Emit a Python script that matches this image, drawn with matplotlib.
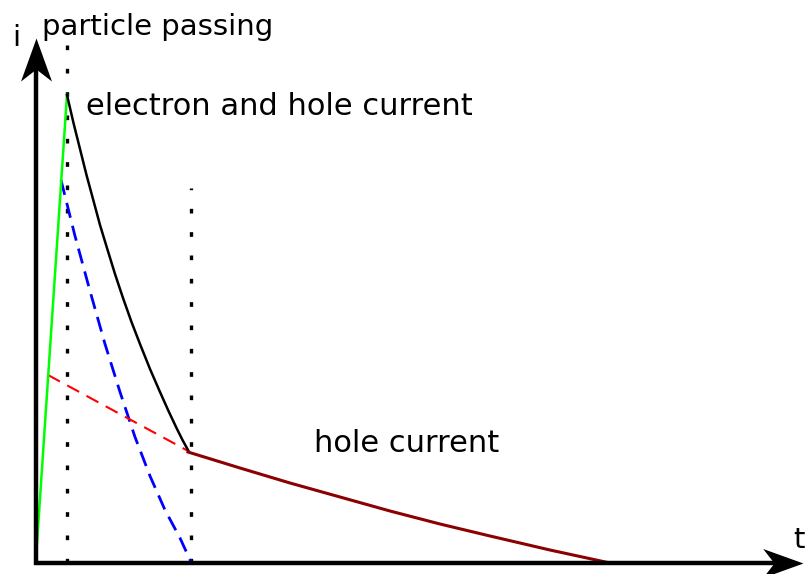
import matplotlib
matplotlib.use("Agg")
import matplotlib.pyplot as plt
from matplotlib.path import Path

# schematic signal of a particle passing through a detector (arbitrary units)
# t measured from the axis origin, i measured up from the t axis

# rise while the particle passes
rise_t = [0, 31]
rise_i = [5, 468]

# electron + hole current
total_t = [31, 37.5, 44, 50.5, 57, 64, 71, 79, 87, 95.5, 104, 114, 124, 132.5, 141, 146.5, 152]
total_i = [468, 440, 414, 388, 364, 338, 315, 289, 265, 241, 219, 194, 171, 152, 134, 123, 113]

# electron contribution (dashed blue)
elec_t = [25, 39, 54, 69, 84, 99, 114, 129, 144, 155]
elec_i = [383, 327, 272, 219, 171, 126, 87, 53, 25, 1]

# hole contribution, early part (dashed red)
hole_early_t = [12, 154]
hole_early_i = [188, 111]

# hole current after electrons are collected
hole_t = [152, 204, 254, 304, 354, 404, 454, 514, 574]
hole_i = [111, 95, 80, 66, 52, 39, 27, 13, 0]

# vertical markers
marker_t = [31, 155]
marker_top = [518, 375]

t_axis_end = 767
i_axis_end = 525

fig = plt.figure(figsize=(8.06, 5.74), dpi=100)
ax = fig.add_axes([0, 0, 1, 1])
ax.set_xlim(-36, 770)
ax.set_ylim(-11, 563)
ax.axis('off')

# dotted markers
for mt, top in zip(marker_t, marker_top):
    ax.plot([mt, mt], [0, top], color='black', lw=2.4,
            linestyle=(0, (1.4, 5.6)), dash_capstyle='butt', zorder=1)

ax.plot(rise_t, rise_i, color='#00ff00', lw=1.8, zorder=3)
ax.plot(total_t, total_i, color='black', lw=1.8, zorder=3)
ax.plot(elec_t, elec_i, color='blue', lw=2.0, linestyle=(0, (5.5, 3)), zorder=2)
ax.plot(hole_early_t, hole_early_i, color='red', lw=1.5, linestyle=(0, (6.5, 4)), zorder=2)
ax.plot(hole_t, hole_i, color='#8b0000', lw=2.2, zorder=3)

# axes with stealth-like arrow heads
head_right = Path([(0, 0), (-1, 0.36), (-0.72, 0), (-1, -0.36), (0, 0)],
                  [Path.MOVETO, Path.LINETO, Path.LINETO, Path.LINETO, Path.CLOSEPOLY])
head_up = Path([(0, 0), (-0.36, -1), (0, -0.72), (0.36, -1), (0, 0)],
               [Path.MOVETO, Path.LINETO, Path.LINETO, Path.LINETO, Path.CLOSEPOLY])

ax.plot([-2, t_axis_end - 14], [0, 0], color='black', lw=3.2,
        solid_capstyle='butt', zorder=4)
ax.plot([0, 0], [-2, i_axis_end - 14], color='black', lw=3.2,
        solid_capstyle='butt', zorder=4)
ax.plot([t_axis_end], [0], marker=head_right, markersize=58, color='black',
        markeredgewidth=0, zorder=5)
ax.plot([0], [i_axis_end], marker=head_up, markersize=62, color='black',
        markeredgewidth=0, zorder=5)

ax.text(-20, 525, 'i', fontsize=21, ha='center', va='center')
ax.text(757, 15, 't', fontsize=21, ha='left', va='baseline')
ax.text(6, 528, 'particle passing', fontsize=21, ha='left', va='baseline')
ax.text(50, 448, 'electron and hole current', fontsize=22, ha='left', va='baseline')
ax.text(278, 111, 'hole current', fontsize=22, ha='left', va='baseline')

fig.savefig('out.png', dpi=100)
